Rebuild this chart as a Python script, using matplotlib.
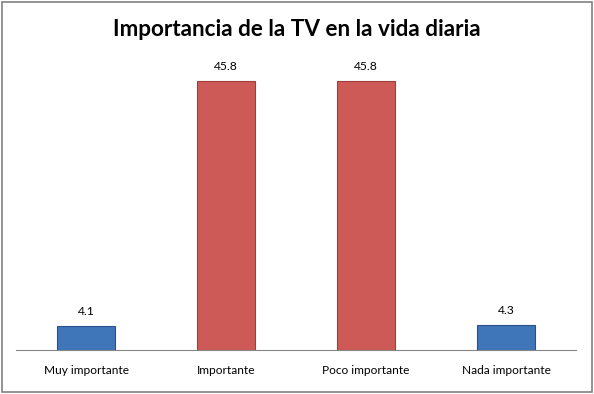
import matplotlib
matplotlib.use("Agg")
import matplotlib.pyplot as plt
from matplotlib.patches import Rectangle

categories = ["Muy importante", "Importante", "Poco importante", "Nada importante"]
values = [4.1, 45.8, 45.8, 4.3]
colors = ["#3f75b9", "#cd5a57", "#cd5a57", "#3f75b9"]
edges = ["#2a5287", "#9e3d3a", "#9e3d3a", "#2a5287"]

plt.rcParams["font.family"] = ["Lato", "DejaVu Sans"]

fig = plt.figure(figsize=(5.94, 3.94), dpi=100)
ax = fig.add_axes([16 / 594, 1 - 350 / 394, 560 / 594, (350 - 56) / 394])

x = range(len(categories))
bars = ax.bar(x, values, width=0.41, color=colors, edgecolor=edges, linewidth=0.8)
for b, v in zip(bars, values):
    ax.text(b.get_x() + b.get_width() / 2, v + 1.5, f"{v:.1f}",
            ha="center", va="bottom", fontsize=8.7)

ax.set_xlim(-0.5, 3.5)
ax.set_ylim(0, 50)
ax.set_yticks([])
ax.set_xticks(list(x))
ax.set_xticklabels(categories, fontsize=8.6)
ax.tick_params(axis="x", length=0, pad=11)
for s in ["top", "right", "left"]:
    ax.spines[s].set_visible(False)
ax.spines["bottom"].set_color("#868686")

fig.text(0.5, 1 - 30 / 394, "Importancia de la TV en la vida diaria",
         ha="center", va="center", fontsize=16.2, fontweight="bold")

fig.patches.append(Rectangle((0.003, 0.004), 0.994, 0.992, transform=fig.transFigure,
                             fill=False, edgecolor="#808080", linewidth=1.2))

fig.savefig("out.png", dpi=100)
